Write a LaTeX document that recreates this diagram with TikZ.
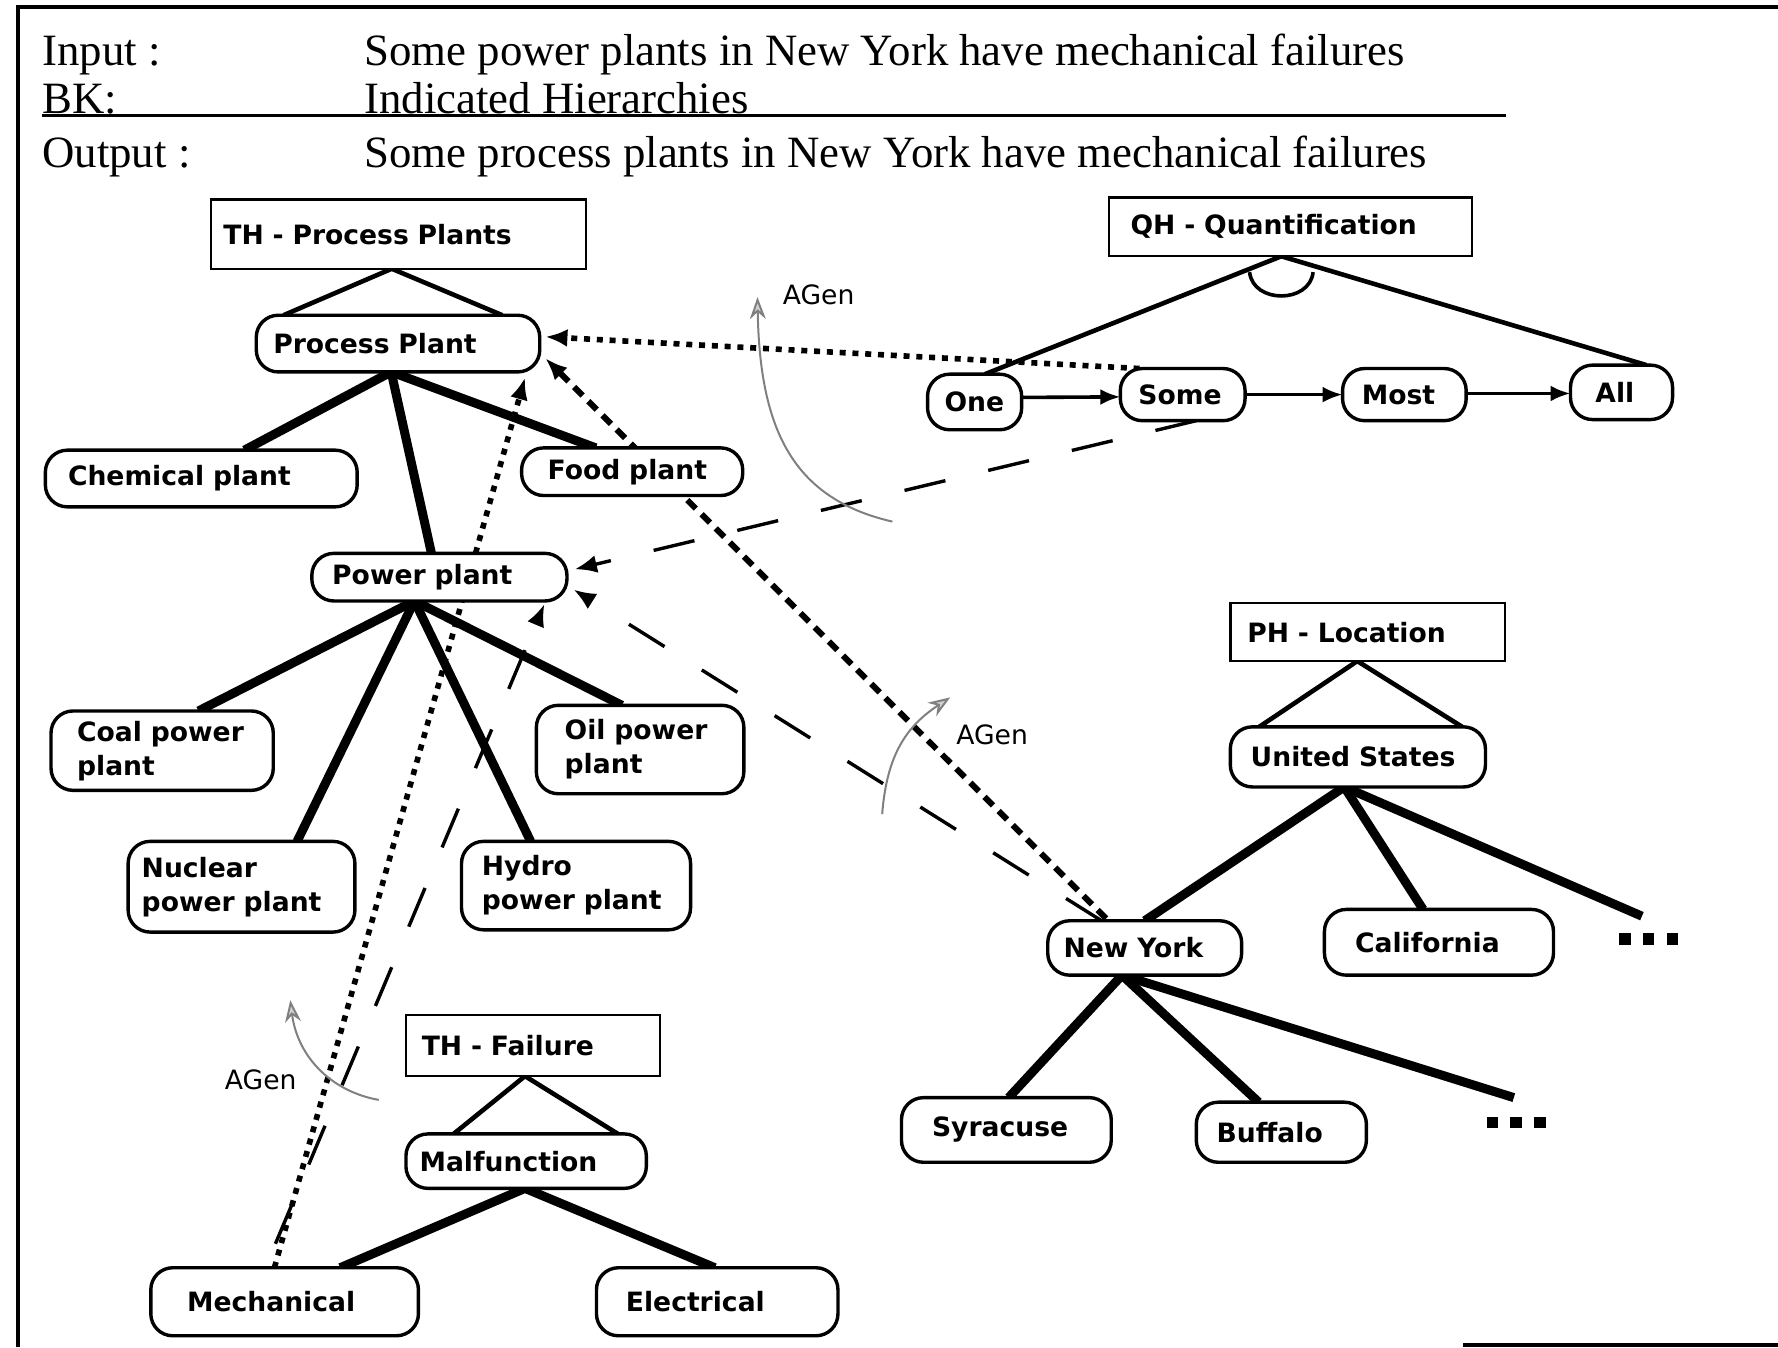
\documentclass[tikz,border=0pt]{standalone}
\usepackage{fontspec}
\setmainfont{Liberation Serif}
\newfontfamily\nodefont{DejaVu Sans}
\usetikzlibrary{arrows.meta,calc,backgrounds}

% node helper: style, name, left, top, right, bottom, text inset, text
\newcommand\mknode[8]{%
  \pgfmathsetmacro\mkw{(#5-#3-2*#7)*0.567}%
  \pgfmathsetmacro\mkh{(#6-#4)*0.567}%
  \pgfmathsetmacro\mki{#7*0.567}%
  \node[#1, anchor=west, inner xsep=\mki pt, text width=\mkw pt, minimum height=\mkh pt]
    (#2) at (#3,{(#4+#6)/2}) {#8};%
}

\tikzset{
  base/.style={outer sep=0pt, inner ysep=0pt, align=left,
    font=\nodefont\bfseries\fontsize{13.3}{17}\selectfont},
  rn/.style={base, draw, fill=white, line width=1.7pt, rounded corners=11pt},
  hbox/.style={base, draw, fill=white, line width=1.2pt},
  hdr/.style={anchor=base west, inner sep=0pt, font=\fontsize{22.4}{26}\selectfont},
  tri/.style={line width=2.3pt},
  thick edge/.style={line width=4.5pt},
  seq/.style={line width=1.8pt, -{Latex[length=10pt,width=8pt]}},
  dotline/.style={line width=2.8pt, dash pattern=on 3pt off 3.4pt, -{Latex[length=11pt,width=9pt]}},
  densedash/.style={line width=3pt, dash pattern=on 6pt off 4pt, -{Latex[length=11pt,width=9pt]}},
  longdash/.style={line width=1.7pt, dash pattern=on 21pt off 22pt, -{Latex[length=11pt,width=9pt]}},
  agen/.style={gray, line width=1pt, -{Stealth[length=11pt,width=8pt,fill=gray!35]}},
  agenlabel/.style={anchor=west, inner sep=0pt, font=\nodefont\fontsize{13.3}{16}\selectfont},
  more/.style={inner sep=0pt, outer sep=0pt}
}

\newcommand\sq{\rule{5.7pt}{5.7pt}}

\begin{document}
\begin{tikzpicture}[x=0.567pt, y=-0.567pt]
\useasboundingbox (0,0) rectangle (1568,1188);

% frame
\draw[line width=2.3pt] (16,1188) -- (16,6) -- (1568,6);
\draw[line width=1.7pt] (1290,1186) -- (1568,1186);

% header lines
\node[hdr] (inlab)  at (37,58)  {Input :};
\node[hdr] (intxt)  at (321,58) {Some power plants in New York have mechanical failures};
\node[hdr] (bklab)  at (37,100) {BK:};
\node[hdr] (bktxt)  at (321,100) {Indicated Hierarchies};
\node[hdr] (outlab) at (37,148) {Output :};
\node[hdr] (outtxt) at (321,148) {Some process plants in New York have mechanical failures};
\draw[line width=1.2pt] (bklab.base west) ++(0,2) -- (1328,102);

% TH - Process Plants
\mknode{hbox}{tpp}{186}{176}{517}{237}{11}{TH - Process Plants}
\mknode{rn}{pp}{226}{278}{476}{328}{15}{Process Plant}
\mknode{rn}{chem}{40}{397}{315}{447}{20}{Chemical plant}
\mknode{rn}{food}{460}{395}{655}{437}{23}{Food plant}
\mknode{rn}{pow}{275}{488}{500}{530}{18}{Power plant}
\mknode{rn}{coal}{45}{627}{241}{697}{23}{Coal power\\plant}
\mknode{rn}{oil}{473}{622}{656}{700}{25}{Oil power\\plant}
\mknode{rn}{nuc}{113}{742}{313}{822}{12}{Nuclear\\power plant}
\mknode{rn}{hyd}{407}{742}{609}{820}{18}{Hydro\\power plant}

% TH - Failure
\mknode{hbox}{thf}{358}{895}{582}{949}{14}{TH - Failure}
\mknode{rn}{mal}{358}{1000}{570}{1048}{12}{Malfunction}
\mknode{rn}{mech}{133}{1118}{369}{1178}{32}{Mechanical}
\mknode{rn}{elec}{526}{1118}{739}{1178}{26}{Electrical}

% QH - Quantification
\mknode{hbox}{qh}{978}{174}{1298}{226}{19}{QH - Quantification}
\mknode{rn}{one}{818}{330}{901}{379}{15}{One}
\mknode{rn}{some}{988}{325}{1098}{371}{16}{Some}
\mknode{rn}{most}{1184}{325}{1293}{371}{17}{Most}
\mknode{rn}{all}{1385}{322}{1475}{370}{22}{All}

% PH - Location
\mknode{hbox}{ph}{1085}{532}{1327}{583}{15}{PH - Location}
\mknode{rn}{us}{1085}{641}{1310}{694}{18}{United States}
\mknode{rn}{ny}{924}{812}{1095}{860}{14}{New York}
\mknode{rn}{cal}{1168}{802}{1370}{860}{27}{California}
\mknode{rn}{syr}{795}{968}{980}{1025}{27}{Syracuse}
\mknode{rn}{buf}{1055}{972}{1205}{1025}{18}{Buffalo}
\node[more] (usmore) at (1454,828) {\sq\hspace{6.2pt}\sq\hspace{6.2pt}\sq};
\node[more] (nymore) at (1337,990) {\sq\hspace{6.2pt}\sq\hspace{6.2pt}\sq};

\begin{pgfonlayer}{background}
  % hierarchy roots
  \draw[tri] ($(pp.north)+(-101,0)$) -- ($(tpp.south)+(-6,0)$) -- ($(pp.north)+(92,0)$);
  \draw[tri] ($(mal.north)+(-64,0)$) -- ($(thf.south)+(-7,0)$) -- ($(mal.north)+(81,0)$);
  \draw[tri] ($(one.north)+(9,0)$) -- ($(qh.south)+(-8,0)$) -- ($(all.north)+(22,0)$);
  \draw[line width=1.8pt] (1102,240) .. controls (1105,268) and (1155,268) .. (1158,240);
  \draw[tri] ($(us.north)+(-87,0)$) -- ($(ph.south)+(-9,0)$) -- ($(us.north)+(92,0)$);

  % taxonomy edges
  \draw[thick edge] ($(pp.south)+(-6,0)$) -- ($(chem.north)+(38,0)$);
  \draw[thick edge] ($(pp.south)+(-6,0)$) -- ($(pow.north)+(-7,0)$);
  \draw[thick edge] ($(pp.south)+(-6,0)$) -- ($(food.north)+(-32,0)$);
  \draw[thick edge] ($(pow.south)+(-22,0)$) -- ($(coal.north)+(32,0)$);
  \draw[thick edge] ($(pow.south)+(-22,0)$) -- ($(nuc.north)+(49,0)$);
  \draw[thick edge] ($(pow.south)+(-22,0)$) -- ($(hyd.north)+(-40,0)$);
  \draw[thick edge] ($(pow.south)+(-22,0)$) -- ($(oil.north)+(-16,0)$);
  \draw[thick edge] ($(mal.south)+(-1,0)$) -- ($(mech.north)+(49,0)$);
  \draw[thick edge] ($(mal.south)+(-1,0)$) -- ($(elec.north)+(-2,0)$);
  \draw[thick edge] ($(us.south)+(-12,0)$) -- (ny.north);
  \draw[thick edge] ($(us.south)+(-12,0)$) -- ($(cal.north)+(-14,0)$);
  \draw[thick edge] ($(us.south)+(-12,0)$) -- ($(usmore.north)+(-6,-15)$);
  \draw[thick edge] ($(ny.south)+(-20,0)$) -- ($(syr.north)+(2,0)$);
  \draw[thick edge] ($(ny.south)+(-20,0)$) -- ($(buf.north)+(-20,0)$);
  \draw[thick edge] ($(ny.south)+(-20,0)$) -- ($(nymore.north)+(-2,-17)$);

  % input statement (long dashes)
  \draw[longdash, dash phase=30pt] ($(mech.north)+(-17,0)$) -- ($(pow.south east)+(-20,3)$);
  \draw[longdash] ($(ny.north)+(-38,0)$) -- ($(pow.south east)+(6,-10)$);
  \draw[longdash] ($(some.south)+(12,0)$) -- ($(pow.east)+(7,-7)$);

  % output statement
  \draw[dotline] ($(mech.north)+(-9,0)$) -- ($(pp.south east)+(-13,5)$);
  \draw[densedash] ($(ny.north)+(-34,-2)$) -- ($(pp.east)+(5,13)$);
  \draw[dotline] ($(some.north west)+(17,0)$) -- ($(pp.east)+(5,-6)$);
\end{pgfonlayer}

% quantifier order
\draw[seq] ($(one.east)+(0,-4)$) -- ($(some.west)+(0,2)$);
\draw[seq] (some.east) -- (most.west);
\draw[seq] ($(most.east)+(0,-1)$) -- ($(all.west)+(0,1)$);

% argument generalisation
\draw[agen] (787,460) .. controls (700,440) and (670,380) .. (668,262);
\node[agenlabel] (agen1) at (690,260) {AGen};
\draw[agen] (778,718) .. controls (782,665) and (800,640) .. (838,615);
\node[agenlabel] (agen2) at (843,648) {AGen};
\draw[agen] (334,970) .. controls (290,962) and (262,930) .. (256,882);
\node[agenlabel] (agen3) at (198,952) {AGen};
\end{tikzpicture}
\end{document}
